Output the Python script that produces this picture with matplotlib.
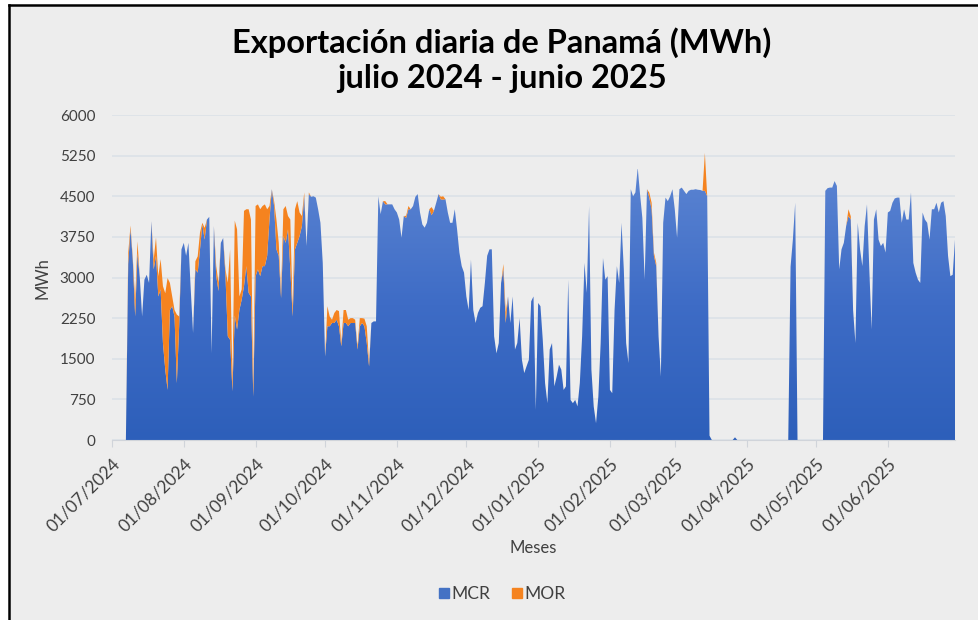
import numpy as np
import pandas as pd
import matplotlib
matplotlib.use("Agg")
import matplotlib.pyplot as plt
import matplotlib.dates as mdates
from matplotlib.colors import LinearSegmentedColormap
from matplotlib.patches import PathPatch, Rectangle
from matplotlib.lines import Line2D

# ---------------- data (daily MWh, 01/07/2024 - 30/06/2025) ----------------
mcr_jul = [0, 0, 0, 0, 0, 0, 0, 3250, 3900, 3300, 2280, 3450, 3000, 2280, 2960, 3050,
           2900, 4040, 3150, 3400, 2650, 2780, 1790, 1300, 925, 2400, 2470, 2280, 1050, 2100, 3520]
mor_jul = [0, 0, 0, 0, 0, 0, 0, 200, 60, 50, 300, 220, 0, 0, 0, 0,
           0, 0, 185, 340, 370, 560, 1050, 1410, 2065, 500, 180, 120, 1265, 180, 0]
mcr_aug = [3640, 3400, 3640, 2780, 1975, 3150, 3090, 3520, 3980, 3700, 4070, 4120, 1600, 3950, 3025, 2750,
           3640, 3730, 3025, 1915, 1850, 900, 2300, 2040, 2400, 2590, 2840, 3210, 2716, 2650, 800]
mor_aug = [0, 0, 0, 0, 0, 150, 300, 310, 30, 215, 0, 0, 0, 0, 185, 150,
           0, 0, 120, 990, 1670, 150, 1750, 1850, 250, 190, 1390, 1050, 1544, 1420, 190]
mcr_sep = [3025, 3150, 3025, 3210, 3210, 3400, 4070, 4630, 4320, 3520, 3400, 2620, 3765, 3640, 3890,
           3150, 2280, 3520, 3640, 3765, 3950, 4500, 3580, 4540, 4490, 4500, 4475, 4260, 4010, 3270]
mor_sep = [1295, 1200, 1235, 1110, 1140, 860, 250, 0, 90, 550, 240, 96, 495, 680, 245,
           920, 120, 740, 770, 435, 185, 70, 0, 30, 0, 0, 0, 0, 0, 0]
mcr_oct = [1540, 2100, 2100, 2160, 2160, 2220, 2100, 1730, 2160, 2160, 2100, 2160, 2160, 2160, 1670, 2100,
           2160, 2100, 1790, 1360, 2160, 2190, 2190, 4500, 4170, 4410, 4350, 4350, 4350, 4350, 4260]
mor_oct = [0, 370, 180, 60, 185, 180, 280, 60, 240, 240, 120, 90, 90, 60, 60, 150,
           90, 140, 310, 60, 0, 0, 0, 0, 0, 0, 60, 0, 0, 0, 0]
mcr_nov = [4200, 4070, 3735, 4135, 4100, 4260, 4260, 4320, 4490, 4540, 4200, 3980, 3920, 4010, 4260,
           4150, 4230, 4380, 4540, 4440, 4440, 4445, 4200, 4010, 4010, 4260, 3890, 3460, 3210, 3090]
mor_nov = [0, 0, 0, 0, 40, 60, 0, 0, 0, 0, 0, 0, 0, 0, 0,
           150, 0, 0, 0, 50, 60, 0, 0, 0, 0, 0, 0, 0, 0, 0]
mcr_dec = [2650, 2400, 3330, 2400, 2160, 2345, 2440, 2470, 2900, 3400, 3520, 3520, 1915, 1600, 1790, 2900,
           3150, 2160, 2650, 2160, 2650, 1670, 1790, 2250, 1480, 1235, 1360, 1480, 2560, 2650, 555]
mor_dec = [0, 0, 0, 0, 0, 0, 0, 0, 0, 0, 0, 0, 0, 0, 0, 0,
           100, 200, 0, 0, 0, 0, 0, 0, 0, 0, 0, 0, 0, 0, 0]
mcr_jan = [2530, 2470, 1850, 1050, 680, 1670, 1790, 990, 1170, 1390, 1300, 925, 990, 2960, 740, 680,
           740, 620, 1050, 1915, 3270, 2716, 4320, 1300, 620, 310, 800, 1790, 3360, 2960, 3025]
mor_jan = [0] * 31
mcr_feb = [925, 864, 2400, 3210, 2900, 4010, 3150, 1790, 1420, 4630, 4500, 4570, 5030, 4540,
           4100, 2960, 4630, 4475, 4260, 3400, 3210, 1915, 1170, 4010, 4475, 4410, 4500, 4630]
mor_feb = [0, 0, 0, 0, 0, 0, 0, 0, 0, 0, 0, 0, 0, 0,
           0, 0, 0, 90, 120, 60, 60, 0, 0, 0, 0, 0, 0, 0]
mcr_mar = [4260, 3735, 4630, 4660, 4600, 4540, 4600, 4620, 4620, 4630, 4620, 4615, 4600, 4600, 4500, 80,
           0, 0, 0, 0, 0, 0, 0, 0, 0, 0, 50, 0, 0, 0, 0]
mor_mar = [0, 0, 0, 0, 0, 0, 0, 0, 0, 0, 0, 0, 0, 700, 0, 0,
           0, 0, 0, 0, 0, 0, 0, 0, 0, 0, 0, 0, 0, 0, 0]
mcr_apr = [0] * 19 + [3200, 3700, 4380] + [0] * 8
mor_apr = [0] * 30
mcr_may = [0, 0, 0, 0, 4600, 4650, 4660, 4660, 4780, 4690, 3150, 3520, 3640, 3950, 4135, 4070,
           2400, 1790, 4010, 3520, 3210, 3950, 4350, 3150, 2040, 4070, 4260, 3700, 3580, 3640, 3460]
mor_may = [0] * 14 + [125, 60] + [0] * 15
mcr_jun = [4200, 4230, 4380, 4460, 4475, 4475, 4010, 4260, 4070, 4070, 4570, 3270, 3090, 2960, 2900,
           4200, 4070, 4010, 3700, 4260, 4260, 4380, 4200, 4380, 4410, 4135, 3400, 3025, 3050, 3700]
mor_jun = [0] * 30

mcr = np.array(mcr_jul + mcr_aug + mcr_sep + mcr_oct + mcr_nov + mcr_dec +
               mcr_jan + mcr_feb + mcr_mar + mcr_apr + mcr_may + mcr_jun, dtype=float)
mor = np.array(mor_jul + mor_aug + mor_sep + mor_oct + mor_nov + mor_dec +
               mor_jan + mor_feb + mor_mar + mor_apr + mor_may + mor_jun, dtype=float)
dates = pd.date_range("2024-07-01", "2025-06-30", freq="D")

title_text = "Exportación diaria de Panamá (MWh)\njulio 2024 - junio 2025"
series_names = ["MCR", "MOR"]
y_ticks = [0, 750, 1500, 2250, 3000, 3750, 4500, 5250, 6000]

# ---------------- figure ----------------
BG = "#EDEDED"
BLUE = "#4472C4"
ORANGE = "#F5831F"
FONT = "Lato"

W, H = 979, 620
fig = plt.figure(figsize=(W / 100, H / 100), dpi=100, facecolor="white")
fig.patches.append(Rectangle((10 / W, 0), 1, 1 - 6 / H, transform=fig.transFigure,
                             facecolor=BG, edgecolor="none", zorder=-5))
fig.lines.append(Line2D([9 / W, 9 / W], [0, 1 - 5 / H], transform=fig.transFigure, color="black", lw=1.8, zorder=-4))
fig.lines.append(Line2D([9 / W, 1], [1 - 5 / H, 1 - 5 / H], transform=fig.transFigure, color="black", lw=1.8, zorder=-4))

ax = fig.add_axes([112 / W, 1 - 440 / H, (955 - 112) / W, (440 - 115) / H])
ax.set_zorder(1)
ax.set_facecolor(BG)

x = mdates.date2num(dates)
total = mcr + mor

# blue area with vertical gradient
blue_poly = ax.fill_between(x, 0, mcr, facecolor="none", edgecolor="none", zorder=2)
cmap = LinearSegmentedColormap.from_list("g", ["#2D5FBA", "#3E6CC6", "#5B84D2"])
grad = np.linspace(0, 1, 256).reshape(-1, 1)
im = ax.imshow(grad, cmap=cmap, aspect="auto", origin="lower",
               extent=[x[0], x[-1], 0, 5000], zorder=2, interpolation="bilinear")
clip = PathPatch(blue_poly.get_paths()[0], transform=ax.transData, facecolor="none", edgecolor="none")
ax.add_patch(clip)
im.set_clip_path(clip)

ax.fill_between(x, mcr, total, facecolor=ORANGE, edgecolor="none", zorder=2, lw=0)

ax.set_xlim(x[0], x[-1])
ax.set_ylim(0, 6000)
ax.set_yticks(y_ticks)
ax.yaxis.grid(True, color="#DCE1E8", lw=1.2, zorder=1)
ax.set_axisbelow(True)
for s in ["top", "right", "left"]:
    ax.spines[s].set_visible(False)
ax.spines["bottom"].set_color("#D0D4DA")
ax.spines["bottom"].set_zorder(3)

ax.xaxis.set_major_locator(mdates.MonthLocator(bymonthday=1))
ax.xaxis.set_major_formatter(mdates.DateFormatter("%d/%m/%Y"))
ax.tick_params(axis="x", length=5, color="#D0D4DA", pad=6, labelsize=12.5, labelcolor="#404040")
ax.tick_params(axis="y", length=0, pad=12, labelsize=11, labelcolor="#404040")
for lab in ax.get_xticklabels():
    lab.set_rotation(45)
    lab.set_ha("right")
    lab.set_rotation_mode("anchor")
    lab.set_fontfamily(FONT)
for lab in ax.get_yticklabels():
    lab.set_fontfamily(FONT)

fig.text(502 / W, 1 - 60 / H, title_text, ha="center", va="center", fontsize=23.5,
         fontweight="bold", family=FONT, color="black", linespacing=1.25)
fig.text(533 / W, 1 - 548 / H, "Meses", ha="center", va="center", fontsize=12,
         family=FONT, color="#404040")
fig.text(43 / W, 1 - 278 / H, "MWh", ha="center", va="center", fontsize=12,
         family=FONT, color="#404040", rotation=90)

handles = [Line2D([], [], marker="s", ls="none", color=BLUE, markersize=7),
           Line2D([], [], marker="s", ls="none", color=ORANGE, markersize=7)]
leg = fig.legend(handles, series_names, loc="center", bbox_to_anchor=(502 / W, 1 - 594 / H), ncol=2,
                 frameon=False, handlelength=0.6, handletextpad=0.15, columnspacing=1.2,
                 prop={"family": FONT, "size": 12.5})
for t in leg.get_texts():
    t.set_color("#404040")

fig.savefig("out.png", dpi=100, facecolor="white")
